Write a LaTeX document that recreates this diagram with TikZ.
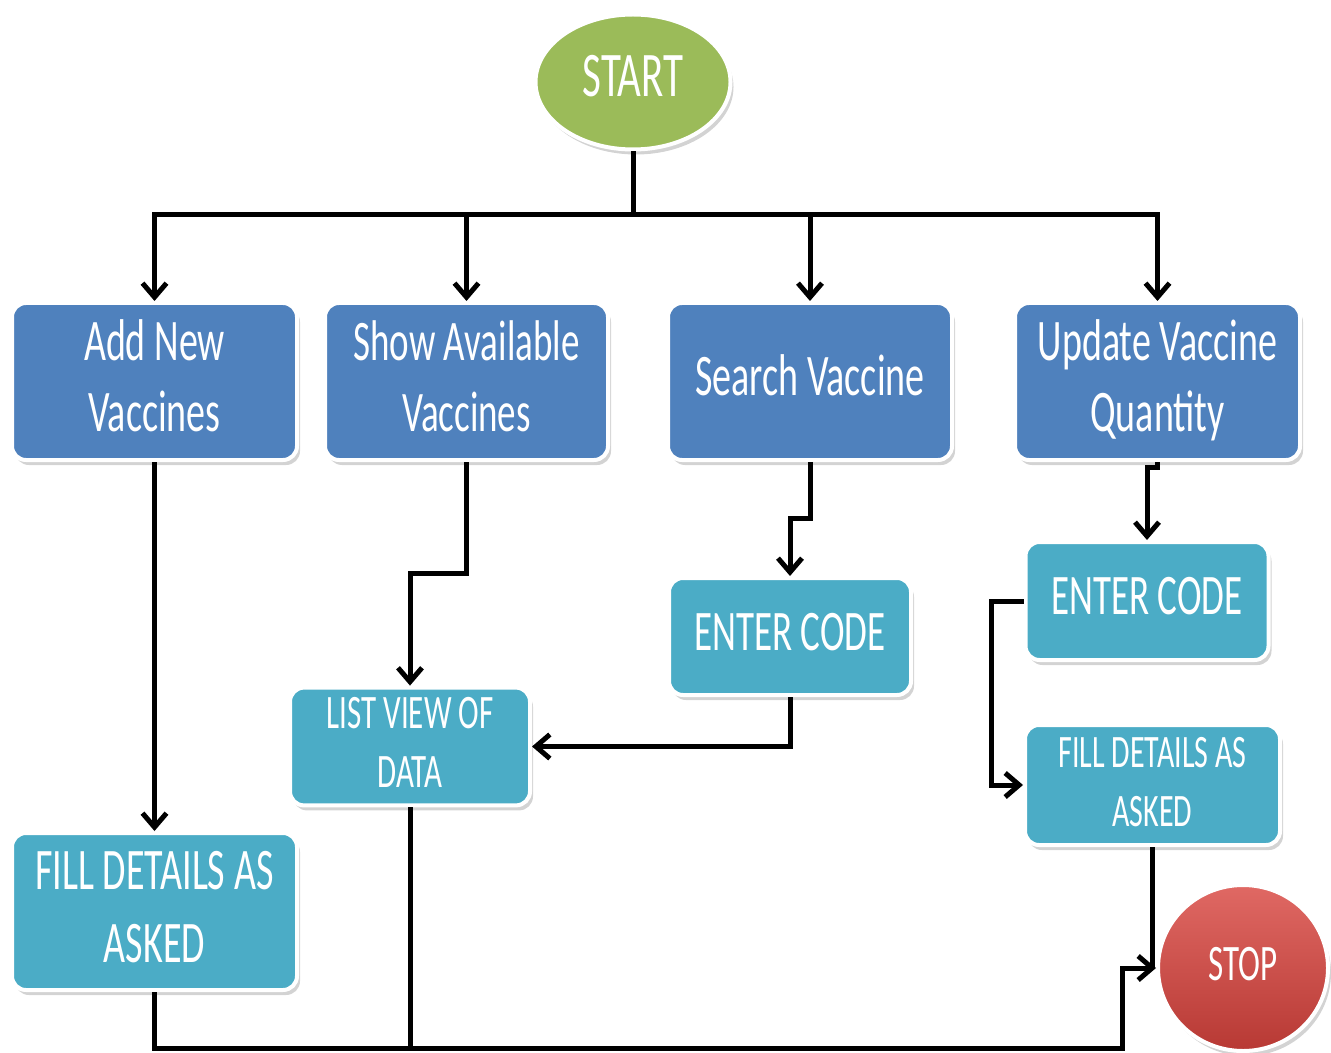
\documentclass[tikz,border=0pt]{standalone}
\usepackage{fontspec}
\setmainfont{Carlito}
\usepackage{graphicx}
\usetikzlibrary{arrows.meta,shapes.geometric,shadows,calc}
\definecolor{boxblue}{HTML}{4F81BD}
\definecolor{boxcyan}{HTML}{4BACC6}
\definecolor{startgreen}{HTML}{9BBB59}
\definecolor{stopred}{HTML}{D8433D}
\newcommand\vt[3]{\scalebox{1}[1.55]{\fontsize{#1}{#2}\selectfont\begin{tabular}{@{}c@{}}#3\end{tabular}}}
\tikzset{
  base/.style={draw=white, line width=2pt, text=white, inner sep=0pt,
    drop shadow={opacity=0.35, shadow xshift=1.5pt, shadow yshift=-2.5pt}},
  bluebox/.style={base, rectangle, rounded corners=7pt, fill=boxblue},
  cyanbox/.style={base, rectangle, rounded corners=7pt, fill=boxcyan},
  sz/.style 2 args={minimum width=#1, minimum height=#2},
  conn/.style={line width=2.5pt, black},
  arr/.style={conn, -{Straight Barb[length=7pt,width=12pt,line width=2.5pt]}},
}
\begin{document}
\begin{tikzpicture}[x=0.5pt,y=-0.5pt]
\useasboundingbox (0,0) rectangle (1331,1053);
% nodes
\node[base, ellipse, fill=startgreen, sz={97.5pt}{67.5pt}] (start) at (633,82) {\vt{20.5pt}{24pt}{START}};
\node[bluebox, sz={142.5pt}{78.5pt}] (add) at (154.5,381.5) {\vt{19pt}{23pt}{Add New\\Vaccines}};
\node[bluebox, sz={141.5pt}{78.5pt}] (show) at (466.5,381.5) {\vt{18.5pt}{23pt}{Show Available\\Vaccines}};
\node[bluebox, sz={142pt}{78.5pt}] (search) at (810,381.5) {\vt{19pt}{23pt}{Search Vaccine}};
\node[bluebox, sz={142.5pt}{78.5pt}] (update) at (1157.5,381.5) {\vt{19pt}{23pt}{Update Vaccine\\Quantity}};
\node[cyanbox, sz={142.5pt}{78.5pt}] (fillL) at (154.5,911.5) {\vt{19pt}{23.5pt}{FILL DETAILS AS\\ASKED}};
\node[cyanbox, sz={120pt}{58.5pt}] (listv) at (410,746.5) {\vt{15.5pt}{19pt}{LIST VIEW OF\\DATA}};
\node[cyanbox, sz={121pt}{58.5pt}] (enterM) at (790,636.5) {\vt{18.5pt}{22pt}{ENTER CODE}};
\node[cyanbox, sz={121.5pt}{59pt}] (enterR) at (1147,601) {\vt{18.5pt}{22pt}{ENTER CODE}};
\node[cyanbox, sz={127.5pt}{60pt}] (fillR) at (1152.5,785) {\vt{15pt}{19pt}{FILL DETAILS  AS\\ASKED}};
\node[base, ellipse, top color=stopred!80!white, bottom color=stopred!85!black, sz={85pt}{83pt}] (stop) at (1243,968) {\vt{16.5pt}{20pt}{STOP}};
% junction coordinates
\coordinate (j) at (633,215);
\coordinate (b2) at (410,573);
\coordinate (b3) at (790,518);
\coordinate (bt) at (1122,1048);
% connectors
\draw[conn] (start.south) -- (j);
\draw[arr] (j) -| (add.north);
\draw[arr] (j) -| (show.north);
\draw[arr] (j) -| (search.north);
\draw[arr] (j) -| (update.north);
\draw[arr] (add.south) -- (fillL.north);
\draw[arr] (show.south) |- (b2) -- (listv.north);
\draw[arr] (search.south) |- (b3) -- (enterM.north);
\draw[arr] (enterM.south) |- (listv.east);
\draw[arr] (update.south) -- ++(0,5) -| (enterR.north);
\draw[arr] (enterR.west) -- ++(-32,0) |- (fillR.west);
\draw[conn] (fillR.south) -- (fillR.south |- stop.west);
\draw[arr] (fillL.south) |- (bt) |- (stop.west);
\draw[conn] (listv.south) -- (listv.south |- bt);
\end{tikzpicture}
\end{document}
